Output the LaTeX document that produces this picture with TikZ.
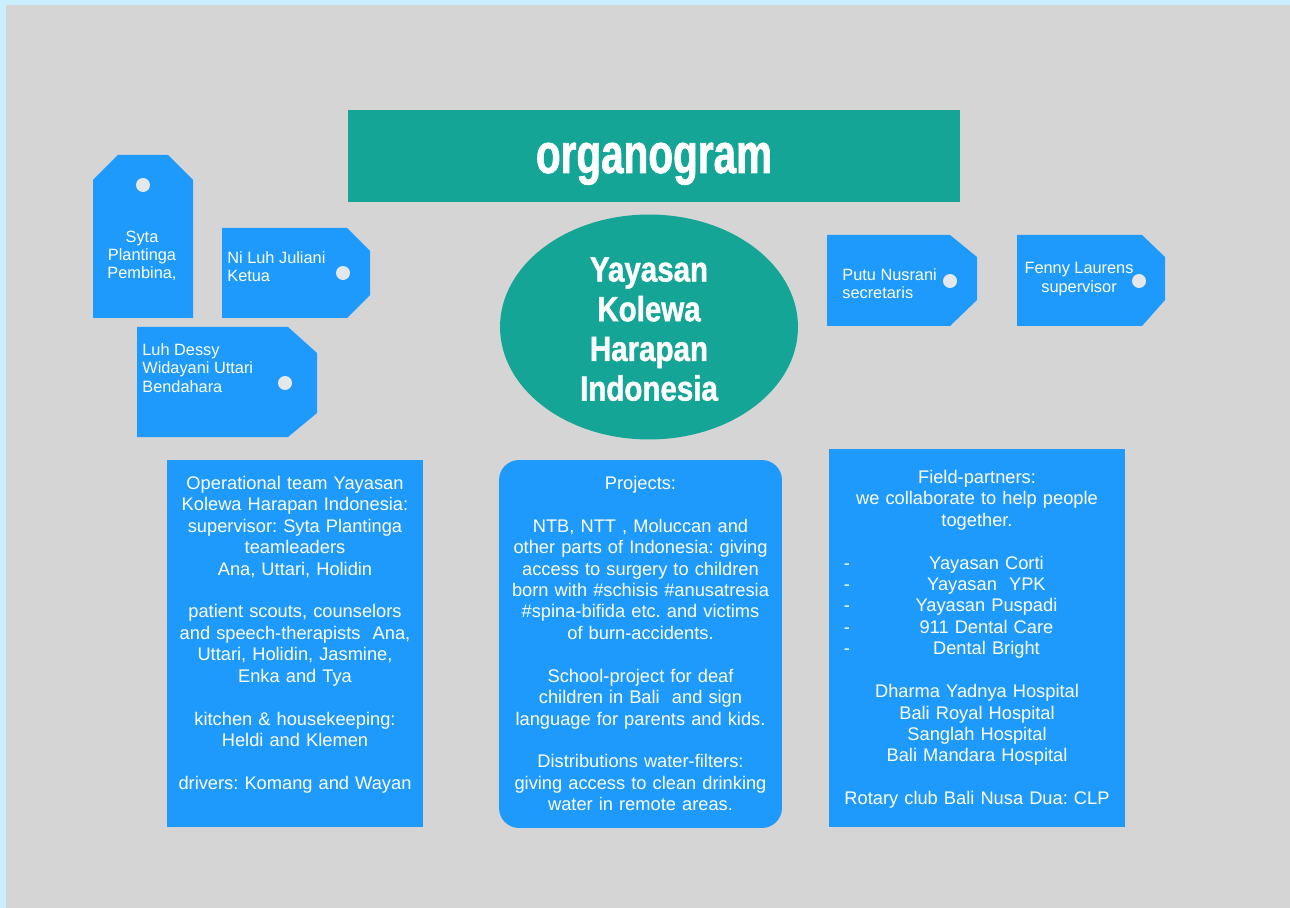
\documentclass[tikz,border=0pt]{standalone}
\usepackage{fontspec}
\setmainfont{Liberation Sans}
\newfontfamily\headfont[FakeStretch=0.72,FakeBold=1.2]{Liberation Sans Bold}
\newfontfamily\ovalfont[FakeStretch=0.84,FakeBold=1.2]{Liberation Sans Bold}
\usetikzlibrary{positioning,shapes.geometric}
\definecolor{frameblue}{HTML}{C9EEFF}
\definecolor{paper}{HTML}{D5D5D5}
\definecolor{teal}{HTML}{14A596}
\definecolor{tagblue}{HTML}{1E9AFC}
\definecolor{holegray}{HTML}{E4E8EC}
\frenchspacing

\begin{document}
\begin{tikzpicture}
  [x=0.02cm, y=-0.02cm,
   every node/.style={text=white, inner sep=0pt},
   tag/.style={fill=tagblue},
   hole/.style={fill=holegray, circle, minimum size=0.28cm},
   tagtext/.style={font=\fontsize{9.3}{10.4}\selectfont},
   box/.style={fill=tagblue},
   boxtext/.style={font=\fontsize{10.4}{12.2}\selectfont, align=center}]
  \fill[frameblue] (0,0) rectangle (1290,908);
  \fill[paper] (6,5) rectangle (1290,908);

  \node (title) [fill=teal, minimum width=12.24cm, minimum height=1.84cm] at (654,156) {};
  \node (titletext) [anchor=base, font=\headfont\fontsize{32}{32}\selectfont] at (654,173) {organogram};
  \node (yk) [ellipse, fill=teal, minimum width=5.96cm, minimum height=4.5cm] at (649,327) {};
  \node (yktext) [anchor=north, align=center, font=\ovalfont\fontsize{20}{22.6}\selectfont] at (649,257)
    {Yayasan\\Kolewa\\Harapan\\Indonesia};

  % tags
  \fill[tag] (93,180) -- (118,155) -- (168,155) -- (193,180) -- (193,318) -- (93,318) -- cycle;
  \node (h1) [hole] at (143,185) {};
  \node (pembina) [tagtext, align=center] at (142,256) {Syta\\Plantinga\\Pembina,};

  \fill[tag] (222,228) -- (347,228) -- (370,251) -- (370,295) -- (347,318) -- (222,318) -- cycle;
  \node (h2) [hole] at (343,273) {};
  \node (ketua) [tagtext, align=left, anchor=west] at (227,267) {Ni Luh Juliani\\Ketua};

  \fill[tag] (137,327) -- (288,327) -- (317,353) -- (317,413) -- (288,437) -- (137,437) -- cycle;
  \node (h3) [hole] at (285,383) {};
  \node (bendahara) [tagtext, align=left, anchor=west] at (142,368) {Luh Dessy\\Widayani Uttari\\Bendahara};

  \fill[tag] (827,235) -- (950,235) -- (977,257) -- (977,300) -- (950,326) -- (827,326) -- cycle;
  \node (h4) [hole] at (950,281) {};
  \node (secretaris) [tagtext, align=left, anchor=west] at (842,284) {Putu Nusrani\\secretaris};

  \fill[tag] (1017,235) -- (1142,235) -- (1165,257) -- (1165,300) -- (1142,326) -- (1017,326) -- cycle;
  \node (h5) [hole] at (1139,281) {};
  \node (supervisor) [tagtext, align=center] at (1079,279) {Fenny Laurens\\supervisor};

  % boxes
  \node (ops) [box, minimum width=5.12cm, minimum height=7.34cm] at (295,643.5) {};
  \node (opstext) [boxtext, text width=5cm, below=0.32cm of ops.north]
    {Operational team Yayasan\\Kolewa Harapan Indonesia:\\supervisor: Syta Plantinga\\teamleaders\\Ana, Uttari, Holidin\\[12.2pt]
     patient scouts, counselors\\and speech-therapists\ \ Ana,\\Uttari, Holidin, Jasmine,\\Enka and Tya\\[12.2pt]
     kitchen \& housekeeping:\\Heldi and Klemen\\[12.2pt]
     drivers: Komang and Wayan};

  \node (proj) [box, rounded corners=0.4cm, minimum width=5.66cm, minimum height=7.36cm] at (640.5,644) {};
  \node (projtext) [boxtext, text width=5.5cm, below=0.32cm of proj.north]
    {Projects:\\[12.2pt]
     NTB, NTT , Moluccan and\\other parts of Indonesia: giving\\access to surgery to children\\born with \#schisis \#anusatresia\\\#spina-bifida etc. and victims\\of burn-accidents.\\[12.2pt]
     School-project for deaf\\children in Bali\ \ and sign\\language for parents and kids.\\[12.2pt]
     Distributions water-filters:\\giving access to clean drinking\\water in remote areas.};

  \node (field) [box, minimum width=5.92cm, minimum height=7.56cm] at (977,638) {};
  \node (fieldtext) [boxtext, text width=5.4cm, below=0.42cm of field.north]
    {Field-partners:\\we collaborate to help people\\together.\\[12.2pt]
     \makebox[\linewidth]{\hspace{0.1em}-\hspace{0.6em}\hfill Yayasan Corti\hfill}\\
     \makebox[\linewidth]{\hspace{0.1em}-\hspace{0.6em}\hfill Yayasan\ \ YPK\hfill}\\
     \makebox[\linewidth]{\hspace{0.1em}-\hspace{0.6em}\hfill Yayasan Puspadi\hfill}\\
     \makebox[\linewidth]{\hspace{0.1em}-\hspace{0.6em}\hfill 911 Dental Care\hfill}\\
     \makebox[\linewidth]{\hspace{0.1em}-\hspace{0.6em}\hfill Dental Bright\hfill}\\[12.2pt]
     Dharma Yadnya Hospital\\Bali Royal Hospital\\Sanglah Hospital\\Bali Mandara Hospital\\[12.2pt]
     Rotary club Bali Nusa Dua: CLP};
\end{tikzpicture}
\end{document}
